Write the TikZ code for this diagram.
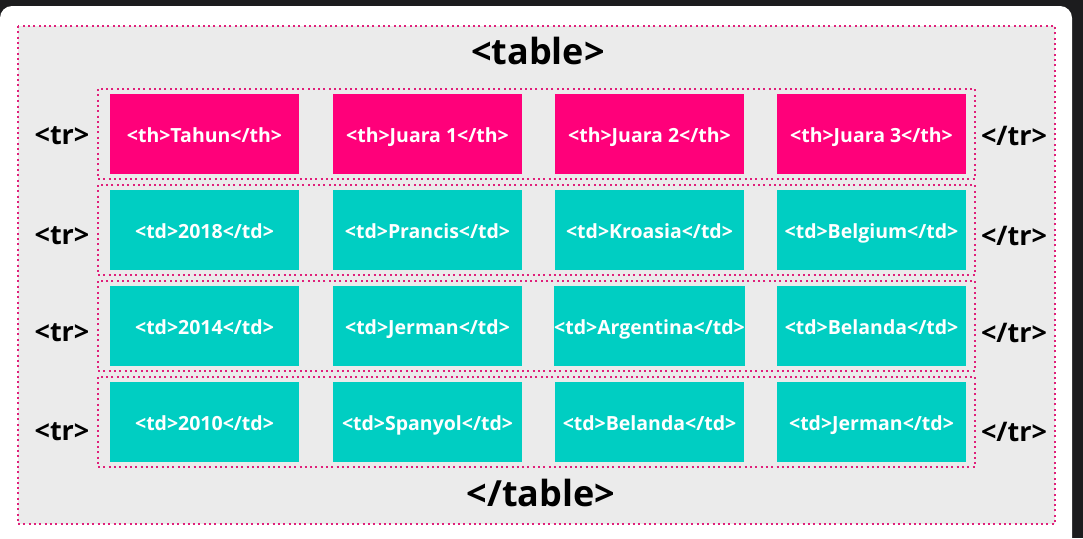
\documentclass[tikz,border=0pt]{standalone}
\usepackage{fontspec}
\setmainfont{Open Sans}[BoldFont={* Bold}]
\definecolor{bgdark}{HTML}{1C1C1E}
\definecolor{panelgray}{HTML}{EBEBEB}
\definecolor{dotpink}{HTML}{E0207A}
\definecolor{thpink}{HTML}{FF007A}
\definecolor{tdteal}{HTML}{00CEC2}
\tikzset{
  dotbox/.style={draw=dotpink, line width=2.5pt, dash pattern=on 2pt off 3.3pt},
  cellbase/.style={minimum width=189pt, minimum height=80pt, inner sep=0pt, text=white,
    text height=20pt, text depth=4pt, font=\bfseries\fontsize{19.5}{22}\selectfont},
  thcell/.style={cellbase, fill=thpink},
  tdcell/.style={cellbase, fill=tdteal},
  trlabel/.style={font=\bfseries\fontsize{27}{30}\selectfont, text=black},
  tablelabel/.style={font=\bfseries\fontsize{36}{40}\selectfont, text=black}
}
\begin{document}
\begin{tikzpicture}[x=1pt,y=-1pt]
\useasboundingbox (0,0) rectangle (1083,538);
\fill[bgdark] (0,0) rectangle (1083,538);
\fill[white, rounded corners=12pt] (0,6) rectangle (1072,560);
\fill[white] (0,520) rectangle (1072,538);
\fill[panelgray] (18,26) rectangle (1055,524);
\draw[dotbox] (18,26) rectangle (1055,524);
\node[tablelabel] (tbl) at (538,51) {<table>};
\node[tablelabel] (etbl) at (541,493) {</table>};
% row boxes
\draw[dotbox] (98,89) rectangle (975,179);
\draw[dotbox] (98,185) rectangle (975,275);
\draw[dotbox] (98,281) rectangle (975,371);
\draw[dotbox] (98,377) rectangle (975,467);
% row labels
\node[trlabel] (tr1) at (62,136) {<tr>};
\node[trlabel] (tr2) at (62,236) {<tr>};
\node[trlabel] (tr3) at (62,333) {<tr>};
\node[trlabel] (tr4) at (62,432) {<tr>};
\node[trlabel] (etr1) at (1014,136) {</tr>};
\node[trlabel] (etr2) at (1014,236) {</tr>};
\node[trlabel] (etr3) at (1014,333) {</tr>};
\node[trlabel] (etr4) at (1014,432) {</tr>};
% header row
\node[thcell] (h1) at (204.5,134) {<th>Tahun</th>};
\node[thcell] (h2) at (427.5,134) {<th>Juara 1</th>};
\node[thcell] (h3) at (649.5,134) {<th>Juara 2</th>};
\node[thcell] (h4) at (871.5,134) {<th>Juara 3</th>};
% row 2
\node[tdcell] (a1) at (204.5,230) {<td>2018</td>};
\node[tdcell] (a2) at (427.5,230) {<td>Prancis</td>};
\node[tdcell] (a3) at (649.5,230) {<td>Kroasia</td>};
\node[tdcell] (a4) at (871.5,230) {<td>Belgium</td>};
% row 3
\node[tdcell] (b1) at (204.5,326) {<td>2014</td>};
\node[tdcell] (b2) at (427.5,326) {<td>Jerman</td>};
\node[tdcell] (b3) at (649.5,326) {<td>Argentina</td>};
\node[tdcell] (b4) at (871.5,326) {<td>Belanda</td>};
% row 4
\node[tdcell] (c1) at (204.5,422) {<td>2010</td>};
\node[tdcell] (c2) at (427.5,422) {<td>Spanyol</td>};
\node[tdcell] (c3) at (649.5,422) {<td>Belanda</td>};
\node[tdcell] (c4) at (871.5,422) {<td>Jerman</td>};
\end{tikzpicture}
\end{document}
